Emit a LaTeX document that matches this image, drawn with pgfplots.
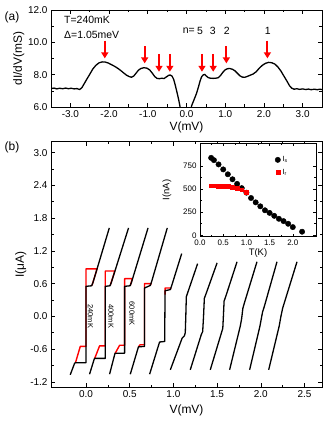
\documentclass[border=0pt]{standalone}
\usepackage{fontspec}
\setmainfont{Liberation Sans}
\usepackage{pgfplots}
\pgfplotsset{compat=1.18}
\usetikzlibrary{arrows.meta}

\pgfplotsset{
  figaxis/.style={
    scale only axis,
    axis line style={line width=0.8bp},
    every tick/.style={black, line width=0.6bp},
    major tick length=4bp, minor tick length=2.5bp,
    tick label style={font=\fontsize{10}{11}\selectfont},
    label style={font=\fontsize{12}{13}\selectfont},
    /pgf/number format/assume math mode=true,
    xticklabel style={/pgf/number format/.cd, fixed, fixed zerofill, precision=1},
  },
  ivb/.style={black, line width=1.3bp, line join=round},
  ivr/.style={red, line width=1.4bp, line join=round},
}

\begin{document}
\begin{tikzpicture}
\path[use as bounding box] (0,0) rectangle (335bp,434bp);

% ---------- panel (a): dI/dV ----------
\begin{axis}[figaxis,
  at={(51bp,327bp)}, anchor=south west,
  width=271bp, height=97bp,
  xmin=-3.5, xmax=3.5, ymin=6, ymax=12,
  xtick={-3,-2,-1,0,1,2,3}, minor x tick num=1,
  ytick={6,8,10,12}, minor y tick num=1,
  yticklabel style={/pgf/number format/.cd, fixed, fixed zerofill, precision=1},
  xlabel={V(mV)}, ylabel={dI/dV(mS)},
  xlabel style={yshift=3bp}, ylabel style={yshift=-3bp},
]
\addplot[black, line width=1.3bp, line join=round] coordinates {
(-3.50,7.14) (-3.42,7.17) (-3.35,7.12) (-3.28,7.16) (-3.20,7.13) (-3.12,7.17)
(-3.05,7.13) (-2.98,7.16) (-2.90,7.12) (-2.83,7.14) (-2.76,7.08) (-2.70,7.20)
(-2.64,7.45) (-2.58,7.70) (-2.50,8.02) (-2.42,8.35) (-2.34,8.58) (-2.26,8.73)
(-2.18,8.79) (-2.10,8.78) (-2.02,8.72) (-1.94,8.62) (-1.86,8.52) (-1.78,8.40)
(-1.70,8.26) (-1.62,8.10) (-1.55,7.97) (-1.48,7.88) (-1.42,7.84) (-1.36,7.92)
(-1.30,8.10) (-1.24,8.28) (-1.18,8.38) (-1.10,8.43) (-1.02,8.40) (-0.95,8.29)
(-0.88,8.08) (-0.82,7.88) (-0.76,7.77) (-0.70,7.75) (-0.64,7.78) (-0.58,7.76)
(-0.52,7.86) (-0.46,7.96) (-0.42,7.98) (-0.37,7.90) (-0.33,7.70) (-0.29,7.35)
(-0.26,7.05) (-0.23,6.75) (-0.20,6.43) (-0.17,6.06) (-0.16,5.90)
};
\addplot[black, line width=1.3bp, line join=round] coordinates {
(0.12,5.90) (0.13,6.06) (0.17,6.30) (0.22,6.60) (0.26,6.85) (0.31,7.25)
(0.35,7.60) (0.39,7.87) (0.43,7.98) (0.47,8.02) (0.51,7.92) (0.56,7.82)
(0.62,7.78) (0.69,7.77) (0.75,7.78) (0.82,7.81) (0.88,7.95) (0.94,8.15)
(1.00,8.30) (1.06,8.37) (1.12,8.38) (1.19,8.33) (1.25,8.24) (1.31,8.10)
(1.38,7.93) (1.44,7.85) (1.51,7.84) (1.58,7.90) (1.64,7.96) (1.72,8.04)
(1.80,8.18) (1.88,8.40) (1.96,8.58) (2.04,8.70) (2.12,8.76) (2.20,8.74)
(2.28,8.66) (2.36,8.48) (2.44,8.22) (2.52,7.90) (2.60,7.58) (2.66,7.32)
(2.72,7.16) (2.78,7.10) (2.85,7.13) (2.92,7.09) (3.00,7.12) (3.08,7.08)
(3.15,7.11) (3.22,7.07) (3.30,7.10) (3.38,7.07) (3.44,7.10) (3.50,7.08)
};
% red arrows marking the subharmonic gap structure
\addplot[red, line width=2bp, -{Triangle[width=7bp,length=6bp]},
  quiver={u=0, v=\thisrow{v}}] table {
x      y      v
-2.11  10.10  -1.09
-1.08  9.77   -1.07
-0.71  9.28   -1.10
-0.43  9.28   -1.10
0.40   9.28   -1.10
0.69   9.28   -1.10
1.03   9.77   -1.07
2.09   10.10  -1.09
};
\node[anchor=west, font=\fontsize{10.5}{11}\selectfont] at (axis cs:-3.25,11.38) {T=240mK};
\node[anchor=west, font=\fontsize{10.5}{11}\selectfont] at (axis cs:-3.25,10.45) {Δ=1.05meV};
\node[font=\fontsize{10.5}{11}\selectfont] at (axis cs:0.06,10.7) {n=};
\node[font=\fontsize{10.5}{11}\selectfont] at (axis cs:0.35,10.7) {5};
\node[font=\fontsize{10.5}{11}\selectfont] at (axis cs:0.68,10.7) {3};
\node[font=\fontsize{10.5}{11}\selectfont] at (axis cs:1.04,10.7) {2};
\node[font=\fontsize{10.5}{11}\selectfont] at (axis cs:2.10,10.7) {1};
\end{axis}

% ---------- panel (b): I-V curves ----------
\begin{axis}[figaxis,
  at={(51bp,46.7bp)}, anchor=south west,
  width=271bp, height=245.6bp,
  xmin=-0.4, xmax=2.7, ymin=-1.3, ymax=3.2,
  xtick={0,0.5,1,1.5,2,2.5}, minor x tick num=1,
  ytick={-1.2,-0.6,0,0.6,1.2,1.8,2.4,3.0}, minor y tick num=1,
  yticklabel style={/pgf/number format/.cd, fixed, fixed zerofill, precision=1},
  xlabel={V(mV)}, ylabel={I(μA)},
  ylabel style={yshift=-3bp},
]
% red (hysteretic) branches
\addplot[ivr] coordinates {(0.069,0.565) (0.127,0.87) (0.0,0.87) (0.0,-0.55) (-0.065,-0.55) (-0.12,-0.85)};
\addplot[ivr] coordinates {(0.278,0.57) (0.33,0.83) (0.221,0.83) (0.221,-0.54) (0.156,-0.54) (0.10,-0.77)};
\addplot[ivr] coordinates {(0.507,0.565) (0.53,0.69) (0.442,0.69) (0.442,-0.53) (0.385,-0.53) (0.335,-0.675)};
\addplot[ivr] coordinates {(0.735,0.565) (0.745,0.60) (0.67,0.60) (0.67,-0.52) (0.62,-0.52) (0.60,-0.56)};
\addplot[ivr] coordinates {(0.965,0.49) (0.97,0.52) (0.905,0.52) (0.905,0.40)};
% black branches
\addplot[ivb] coordinates {(-0.18,-1.07) (-0.13,-0.86) (-0.12,-0.85) (0.0,-0.85) (0.0,0.55) (0.065,0.56) (0.08,0.62) (0.267,1.62)};
\addplot[ivb] coordinates {(0.041,-1.06) (0.095,-0.78) (0.10,-0.77) (0.221,-0.77) (0.221,0.55) (0.275,0.56) (0.29,0.62) (0.487,1.62)};
\addplot[ivb] coordinates {(0.27,-1.06) (0.33,-0.69) (0.335,-0.675) (0.442,-0.675) (0.442,0.55) (0.505,0.56) (0.52,0.62) (0.71,1.62)};
\addplot[ivb] coordinates {(0.507,-1.06) (0.60,-0.56) (0.67,-0.55) (0.67,0.52) (0.735,0.565) (0.75,0.63) (0.93,1.62)};
\addplot[ivb] coordinates {(0.728,-1.06) (0.842,-0.47) (0.90,-0.46) (0.905,0.47) (0.965,0.49) (0.98,0.56) (1.095,1.15)};
\addplot[ivb] coordinates {(0.965,-0.98) (1.10,-0.40) (1.125,-0.36) (1.136,-0.30) (1.142,0.0) (1.148,0.36) (1.165,0.44) (1.277,0.965)};
\addplot[ivb] coordinates {(1.193,-0.98) (1.32,-0.33) (1.335,-0.28) (1.345,0.0) (1.354,0.33) (1.375,0.42) (1.50,0.98)};
\addplot[ivb] coordinates {(1.422,-0.98) (1.55,-0.30) (1.565,-0.22) (1.572,0.0) (1.58,0.28) (1.60,0.37) (1.728,1.0)};
\addplot[ivb] coordinates {(1.643,-0.98) (1.765,-0.18) (1.78,-0.05) (1.795,0.15) (1.815,0.26) (1.956,1.0)};
\addplot[ivb] coordinates {(1.872,-0.98) (1.99,-0.18) (2.005,-0.05) (2.02,0.08) (2.04,0.18) (2.185,1.0)};
\addplot[ivb] coordinates {(2.09,-0.98) (2.21,-0.18) (2.23,0.0) (2.25,0.15) (2.414,1.0)};
\node[rotate=-90, font=\fontsize{7.5}{8}\selectfont] at (axis cs:0.05,0.0) {240mK};
\node[rotate=-90, font=\fontsize{7.5}{8}\selectfont] at (axis cs:0.286,0.0) {400mK};
\node[rotate=-90, font=\fontsize{7.5}{8}\selectfont] at (axis cs:0.526,0.05) {600mK};
\end{axis}

% ---------- inset: switching and retrapping currents ----------
\begin{axis}[figaxis,
  at={(200bp,197.3bp)}, anchor=south west,
  width=116bp, height=93.7bp,
  axis background/.style={fill=white},
  xmin=0, xmax=2.5, ymin=-15, ymax=1000,
  xtick={0,0.5,1,1.5,2}, minor x tick num=1,
  ytick={0,250,500,750}, minor y tick num=1,
  major tick length=3bp, minor tick length=2bp,
  tick label style={font=\fontsize{8}{9}\selectfont},
  label style={font=\fontsize{9.5}{10}\selectfont},
  xlabel={T(K)}, ylabel={I(nA)},
  xlabel style={yshift=4bp}, ylabel style={yshift=5bp},
  legend style={draw=none, fill=none, at={(0.62,0.9)}, anchor=north west,
    font=\fontsize{7.5}{8}\selectfont, row sep=2bp},
  legend cell align=left,
]
\addplot[only marks, mark=*, mark size=2.7bp, black] coordinates {
(0.24,839) (0.30,814) (0.40,768) (0.50,714) (0.60,661) (0.70,607) (0.80,557)
(0.90,511) (1.00,462) (1.10,404) (1.20,357) (1.30,314) (1.40,271) (1.50,243)
(1.60,211) (1.70,179) (1.80,154) (1.90,125) (2.00,89) (2.20,39)
};
\addlegendentry{I\textsubscript{s}}
\addplot[only marks, mark=square*, mark size=1.9bp, red] coordinates {
(0.24,538) (0.30,538) (0.35,537) (0.40,536) (0.50,533) (0.60,528) (0.70,520)
(0.80,508) (0.90,494) (1.00,470)
};
\addlegendentry{I\textsubscript{r}}
\end{axis}

\node[font=\fontsize{12}{13}\selectfont] at (12bp,417bp) {(a)};
\node[font=\fontsize{12}{13}\selectfont] at (12bp,287bp) {(b)};
\end{tikzpicture}
\end{document}
